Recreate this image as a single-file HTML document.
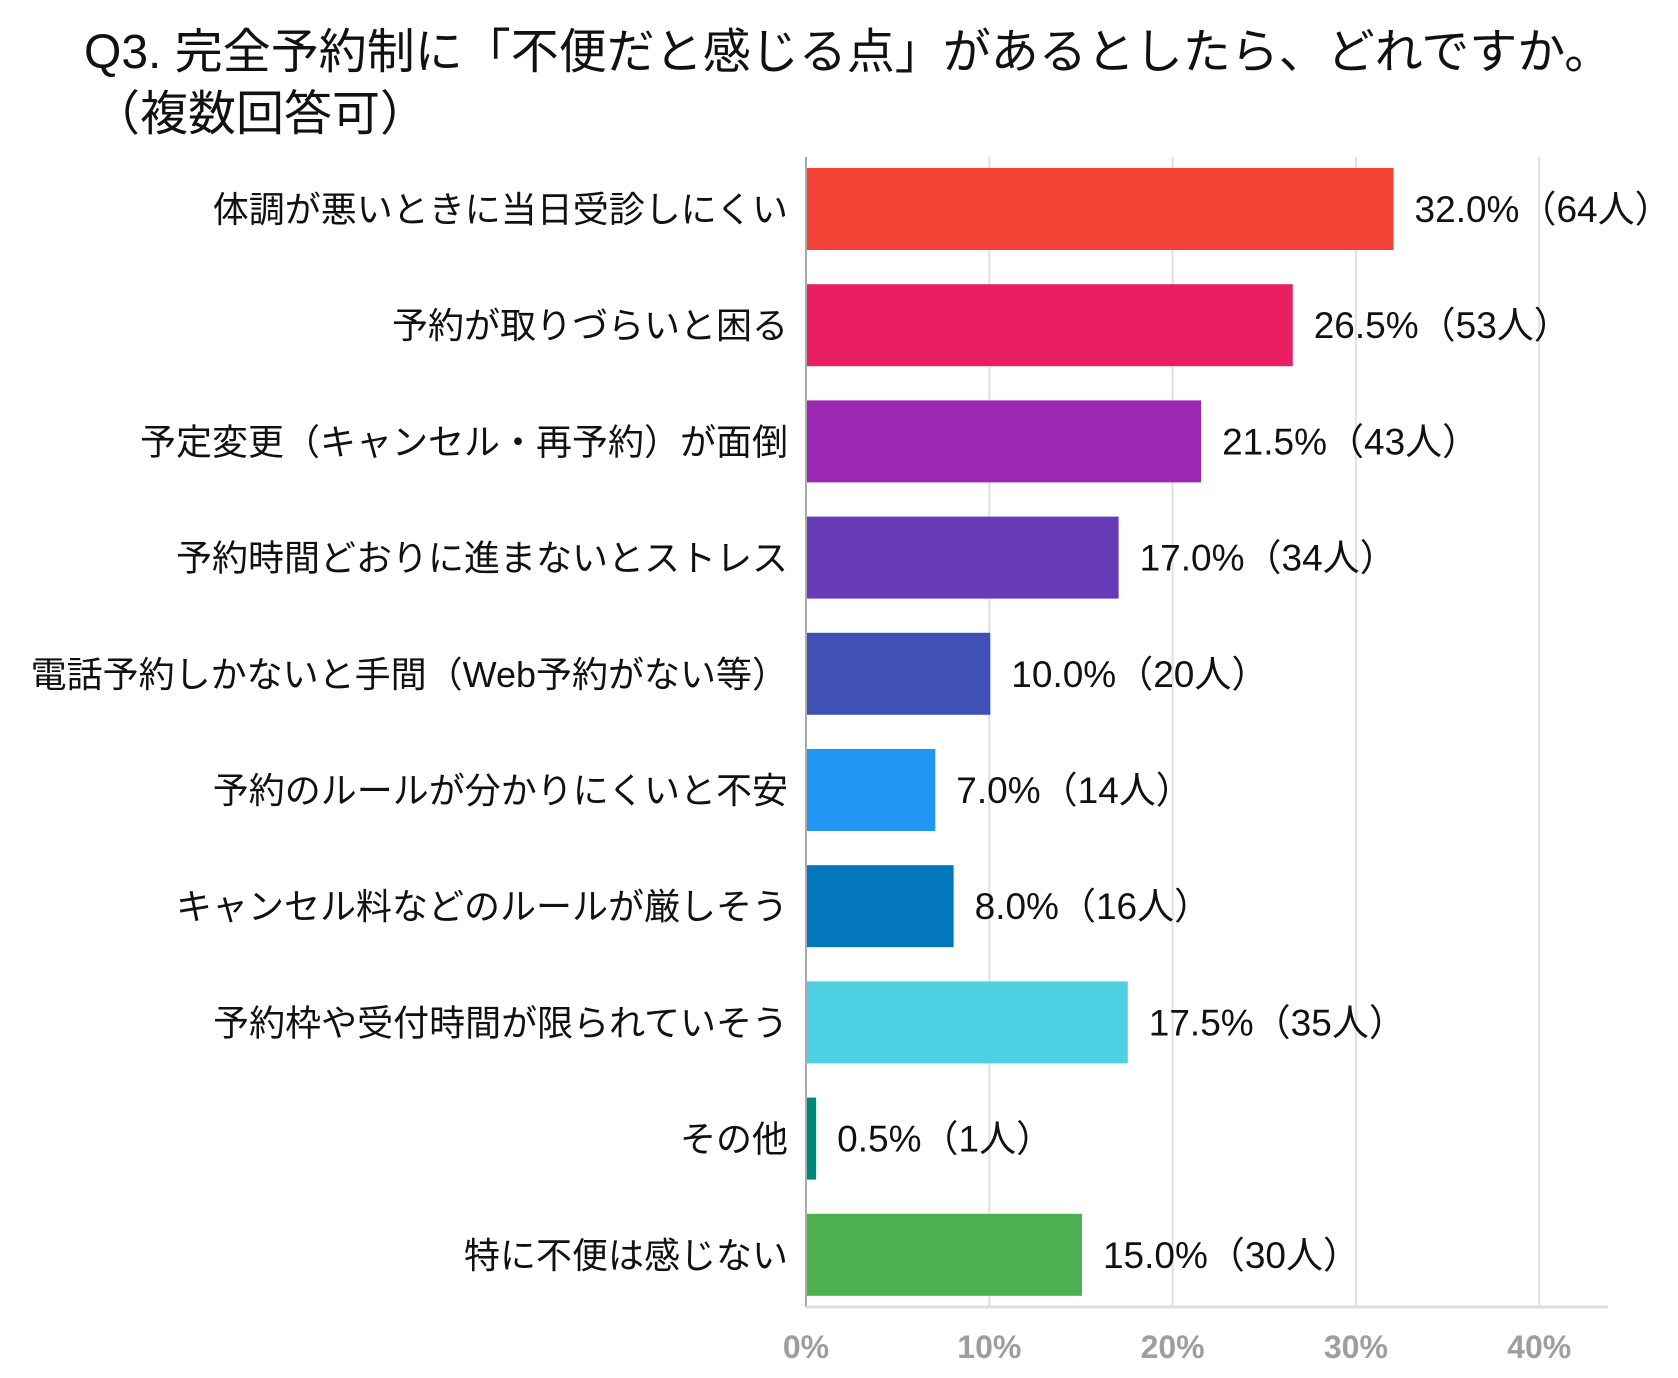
<!DOCTYPE html>
<html><head><meta charset="utf-8"><style>
body{margin:0;background:#fff;}
svg{display:block;font-family:"Liberation Sans","Noto Sans CJK JP",sans-serif;}
</style></head><body>
<svg id="chart" width="1678" height="1378" viewBox="0 0 1678 1378">
<text x="84" y="68" font-size="48" fill="#111">Q3. 完全予約制に「不便だと感じる点」があるとしたら、どれですか。</text>
<text x="92" y="130" font-size="48" fill="#111">（複数回答可）</text>
<g id="grid"></g><g id="bars"></g><g id="labels"></g>
</svg>
<script>
const categories=["体調が悪いときに当日受診しにくい","予約が取りづらいと困る","予定変更（キャンセル・再予約）が面倒","予約時間どおりに進まないとストレス","電話予約しかないと手間（Web予約がない等）","予約のルールが分かりにくいと不安","キャンセル料などのルールが厳しそう","予約枠や受付時間が限られていそう","その他","特に不便は感じない"];
const values=[32.0,26.5,21.5,17.0,10.0,7.0,8.0,17.5,0.5,15.0];
const counts=[64,53,43,34,20,14,16,35,1,30];
const ticks=[0,10,20,30,40];
const colors=["#F44336","#E91E63","#9C27B0","#673AB7","#3F51B5","#2196F3","#0277BD","#4DD0E1","#00897B","#4CAF50"];
const NS="http://www.w3.org/2000/svg";
const x0=806,pxPer=18.33,yTop=157,yBot=1307,c0=209,step=116.2,bh=82;
const xs=v=>x0+v*pxPer, yc=i=>c0+i*step;
function mk(t,a,p){const e=document.createElementNS(NS,t);for(const k in a)e.setAttribute(k,a[k]);p.appendChild(e);return e;}
const g=document.getElementById('grid'),b=document.getElementById('bars'),l=document.getElementById('labels');
ticks.forEach(t=>{
  const ln=mk('line',{x1:xs(t),x2:xs(t),y1:yTop,y2:yBot,stroke:t===0?'#aaa':'#e0e0e0','stroke-width':2},g);
  
  
  const tx=mk('text',{x:xs(t),y:1358,'text-anchor':'middle','font-size':32,fill:'#9e9e9e','font-weight':'bold'},g);
  tx.textContent=t+'%';
  
  
});
const ax=mk('line',{x1:x0,x2:1608,y1:yBot,y2:yBot,stroke:'#ddd','stroke-width':3},g);


categories.forEach((c,i)=>{
  const r=mk('rect',{x:x0+1,y:yc(i)-bh/2,width:xs(values[i])-x0,height:bh,fill:colors[i]},b);
  
  
  const ct=mk('text',{x:788,y:yc(i)+13,'text-anchor':'end','font-size':36,fill:'#111'},l);
  ct.textContent=c;
  
  
  const vt=mk('text',{x:xs(values[i])+22,y:yc(i)+13,'font-size':37,fill:'#111'},l);
  vt.textContent=values[i].toFixed(1)+'%（'+counts[i]+'人）';
  
  
});
</script>
</body></html>
